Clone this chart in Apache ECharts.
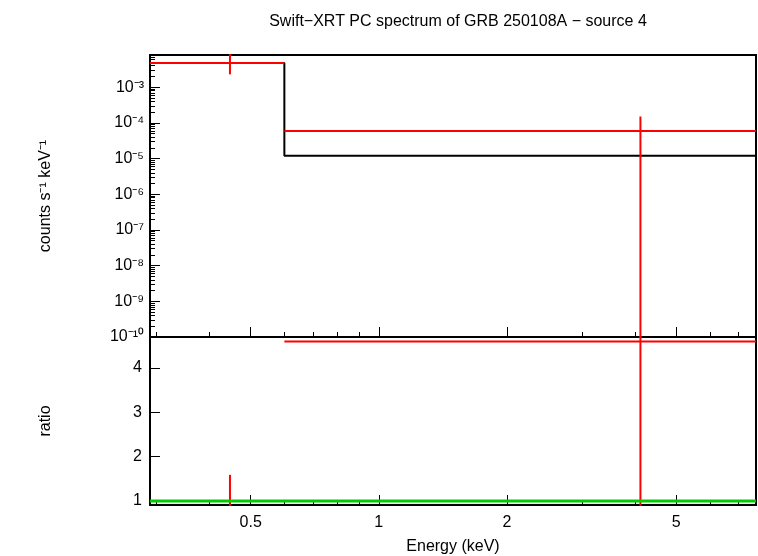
<!DOCTYPE html>
<html>
<head>
<meta charset="UTF-8">
<title>Swift-XRT spectrum</title>
<style>
  *{margin:0;padding:0;}
  .container{width:758px;height:556px;background:#fff;}
</style>
<script src="https://cdn.jsdelivr.net/npm/echarts@6/dist/echarts.min.js"></script>
</head>
<body>
<div class="container"></div>
<script>
// energy bins (keV)
let binLo=[0.29,0.6]
let binHi=[0.6,7.7]
let dataE=[0.447,4.12]
let dataRate=[4.8e-3,5.9e-5]
let dataRateLo=[2.3e-3,1e-12]
let dataRateHi=[2e-2,1.5e-4]
let modelRate=[4.8e-3,1.2e-5]
let ratio=[1.0,4.6]
let ratioLo=[0.5,0.5]
let ratioHi=[1.59,10]
let xMajor=[0.5,1,2,5]
let xMinor=[0.3,0.4,0.6,0.7,0.8,0.9,3,4,6,7]

let L=Math.log10
let xMin=L(0.29),xMax=L(7.7)
let sup={'-':'\u207b','0':'\u2070','1':'\u00b9','2':'\u00b2','3':'\u00b3','4':'\u2074','5':'\u2075','6':'\u2076','7':'\u2077','8':'\u2078','9':'\u2079'}
let font='Liberation Sans'

let container=document.querySelector('.container')
let chart=echarts.init(container)
let series=[]
function seg(pts,color,xi,width){
  series.push({type:'line',xAxisIndex:xi,yAxisIndex:xi,data:pts,symbol:'none',
    lineStyle:{color,width:width||2},clip:true,silent:true,animation:false})
}
// model step
let mpts=[]
binLo.forEach((lo,i)=>{mpts.push([L(lo),modelRate[i]]);mpts.push([L(binHi[i]),modelRate[i]])})
seg(mpts,'#000',0)
binLo.forEach((lo,i)=>{
  seg([[L(lo),dataRate[i]],[L(binHi[i]),dataRate[i]]],'#f00',0)
  seg([[L(dataE[i]),dataRateLo[i]],[L(dataE[i]),dataRateHi[i]]],'#f00',0)
  seg([[L(lo),ratio[i]],[L(binHi[i]),ratio[i]]],'#f00',1)
  seg([[L(dataE[i]),ratioLo[i]],[L(dataE[i]),ratioHi[i]]],'#f00',1)
})
seg([[xMin,1],[xMax,1]],'#0c0',1,3)

function xAxis(gi,labels){
  return {type:'value',gridIndex:gi,min:xMin,max:xMax,position:'bottom',
    axisLine:{show:false,onZero:false},splitLine:{show:false},
    axisTick:{inside:true,length:10,customValues:xMajor.map(L),lineStyle:{color:'#000'}},
    axisLabel:{show:labels,customValues:xMajor.map(L),formatter:v=>String(+Math.pow(10,v).toFixed(2)),color:'#000',fontSize:16,fontFamily:font,margin:10},
    name:labels?'Energy (keV)':'',nameLocation:'middle',nameGap:34,
    nameTextStyle:{color:'#000',fontSize:16,fontFamily:font}}
}
function xMinorAxis(gi){
  return {type:'value',gridIndex:gi,min:xMin,max:xMax,position:'bottom',
    axisLine:{show:false,onZero:false},splitLine:{show:false},
    axisTick:{inside:true,length:5,customValues:xMinor.map(L),lineStyle:{color:'#000'}},
    axisLabel:{show:false}}
}
let option={
  backgroundColor:'#fff',
  title:{text:'Swift\u2212XRT PC spectrum of GRB 250108A \u2212 source 4',left:453,top:9,textAlign:'center',
    textStyle:{fontSize:16,fontWeight:'normal',fontFamily:font,color:'#000'}},
  grid:[
    {left:150,top:55,width:606,height:282,show:true,borderColor:'#000',borderWidth:2},
    {left:150,top:337,width:606,height:168,show:true,borderColor:'#000',borderWidth:2}
  ],
  xAxis:[xAxis(0,false),xAxis(1,true),xMinorAxis(0),xMinorAxis(1)],
  yAxis:[
    {type:'log',gridIndex:0,min:1e-10,max:8e-3,logBase:10,interval:1,position:'left',
     axisLine:{show:false,onZero:false},splitLine:{show:false},
     axisTick:{inside:true,length:10,lineStyle:{color:'#000'}},
     minorTick:{show:true,splitNumber:9,length:5,lineStyle:{color:'#000'}},
     axisLabel:{color:'#000',fontSize:16,fontFamily:font,margin:6,showMaxLabel:false,
       formatter:v=>{let e=L(v);if(Math.abs(e-Math.round(e))>1e-6||e>-2.5)return '';
         return '10'+String(Math.round(e)).split('').map(c=>sup[c]).join('')}},
     name:'counts s\u207b\u00b9 keV\u207b\u00b9',nameLocation:'middle',nameGap:96,
     nameTextStyle:{color:'#000',fontSize:16,fontFamily:font}},
    {type:'value',gridIndex:1,min:0.91,max:4.7,position:'left',
     axisLine:{show:false,onZero:false},splitLine:{show:false},
     axisTick:{inside:true,length:10,customValues:[1,2,3,4],lineStyle:{color:'#000'}},
     axisLabel:{customValues:[1,2,3,4],color:'#000',fontSize:16,fontFamily:font,margin:8},
     name:'ratio',nameLocation:'middle',nameGap:96,
     nameTextStyle:{color:'#000',fontSize:16,fontFamily:font}}
  ],
  series
}
chart.setOption(option)
</script>
</body>
</html>
